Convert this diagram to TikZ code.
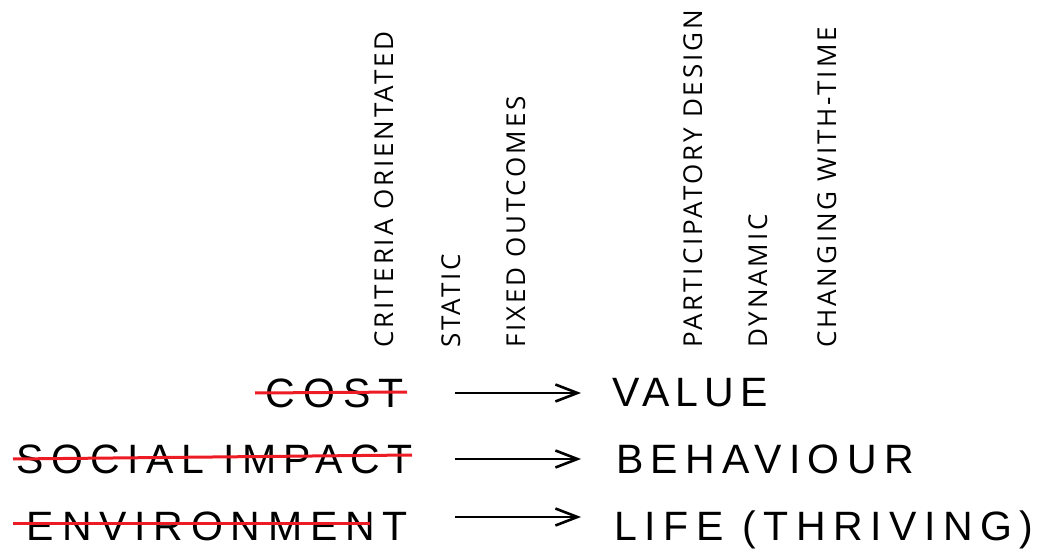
\documentclass[tikz,border=0pt]{standalone}
\usepackage{fontspec}
\usetikzlibrary{arrows.meta}
\newfontfamily\hfont{Liberation Sans}
\newfontfamily\vfont[LetterSpace=11]{Open Sans}
\definecolor{strikered}{RGB}{237,28,36}
\tikzset{
  vlabel/.style={rotate=90, anchor=base west, inner sep=0pt, font=\vfont\fontsize{26bp}{28bp}\selectfont},
  oldword/.style={anchor=base east, inner sep=0pt, font=\hfont\fontsize{41bp}{44bp}\selectfont\addfontfeature{LetterSpace=#1}},
  newword/.style={anchor=base west, inner sep=0pt, font=\hfont\fontsize{41bp}{44bp}\selectfont\addfontfeature{LetterSpace=#1}},
  strike/.style={draw=strikered, line width=3bp},
  shiftarrow/.style={draw=black, line width=2.6bp, -{Straight Barb[length=22bp,width=17bp,line width=2.6bp]}}
}
\begin{document}
\begin{tikzpicture}[x=1bp,y=-1bp]
\useasboundingbox (0,0) rectangle (1038,550);
% vertical labels
\node[vlabel] (crit) at (393,348) {CRITERIA ORIENTATED};
\node[vlabel] (stat) at (460,348) {STATIC};
\node[vlabel] (fixed) at (525,348) {FIXED OUTCOMES};
\node[vlabel] (part) at (702,348) {PARTICIPATORY DESIGN};
\node[vlabel] (dyn) at (767,348) {DYNAMIC};
\node[vlabel] (chg) at (836,348) {CHANGING WITH-TIME};
% old words
\node[oldword=20] (cost) at (404,407) {COST};
\node[oldword=18.3] (social) at (413,473) {SOCIAL IMPACT};
\node[oldword=19] (env) at (408,540) {ENVIRONMENT};
% new words
\node[newword=14.6] (value) at (612,406) {VALUE};
\node[newword=18] (behav) at (616,473) {BEHAVIOUR};
\node[newword=18.4] (life) at (614,540) {LIFE (THRIVING)};
% strike lines
\coordinate (s1a) at (255,393); \coordinate (s1b) at (407,392);
\coordinate (s2a) at (13,459); \coordinate (s2b) at (412,455);
\coordinate (s3a) at (13,523); \coordinate (s3b) at (370,523);
\draw[strike] (s1a) -- (s1b);
\draw[strike] (s2a) -- (s2b);
\draw[strike] (s3a) -- (s3b);
% arrows
\coordinate (a1a) at (455,393); \coordinate (a1b) at (581,393);
\coordinate (a2a) at (455,459); \coordinate (a2b) at (581,459);
\coordinate (a3a) at (455,517); \coordinate (a3b) at (581,517);
\draw[shiftarrow] (a1a) -- (a1b);
\draw[shiftarrow] (a2a) -- (a2b);
\draw[shiftarrow] (a3a) -- (a3b);
\end{tikzpicture}
\end{document}
